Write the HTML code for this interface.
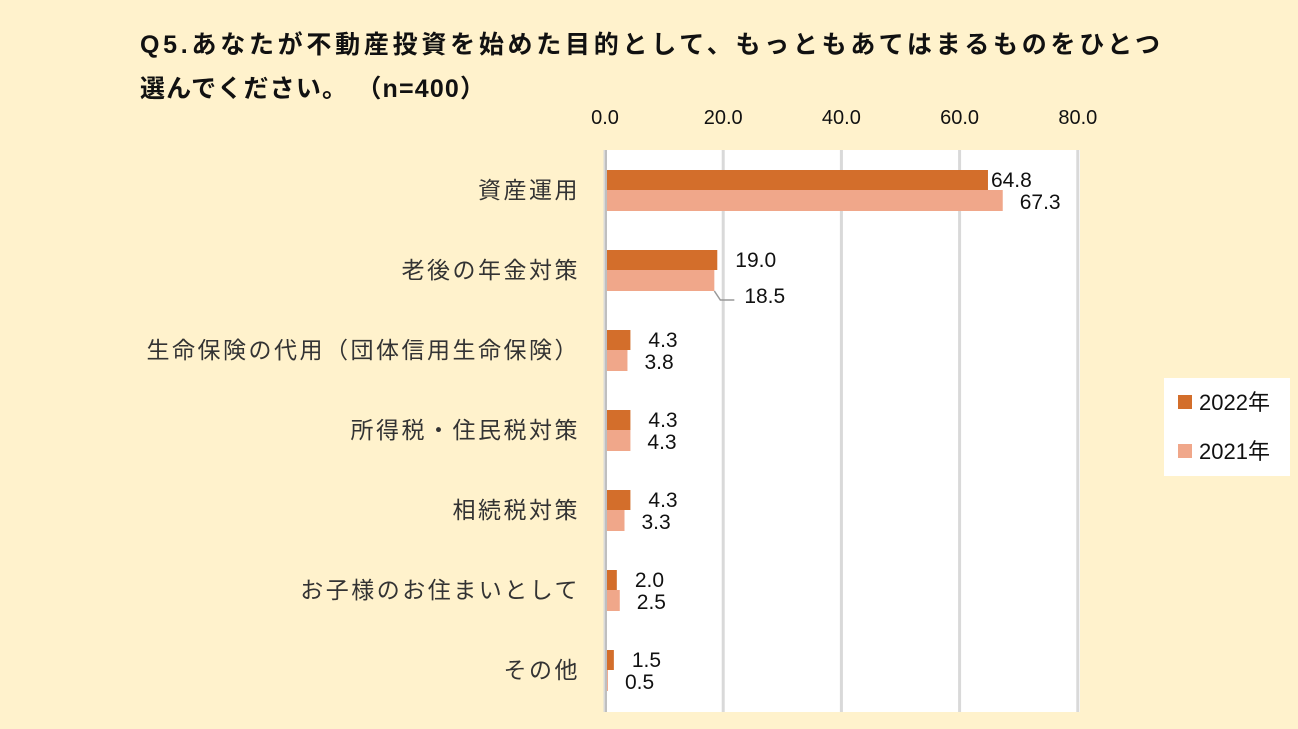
<!DOCTYPE html>
<html><head><meta charset="utf-8"><style>
body{margin:0;width:1298px;height:729px;background:#FFF2CC;overflow:hidden;font-family:"Liberation Sans","Noto Sans CJK JP",sans-serif;}
</style></head><body>
<svg id="c" width="1298" height="729" style="position:absolute;left:0;top:0"></svg>
<script>
const categories=["資産運用","老後の年金対策","生命保険の代用（団体信用生命保険）","所得税・住民税対策","相続税対策","お子様のお住まいとして","その他"];
const values2022=[64.8,19.0,4.3,4.3,4.3,2.0,1.5];
const values2021=[67.3,18.5,3.8,4.3,3.3,2.5,0.5];
const ticks=[0,20,40,60,80];
const seriesNames=["2022年","2021年"];
const NS="http://www.w3.org/2000/svg";
const svg=document.getElementById('c');
function el(t,a,txt){const e=document.createElementNS(NS,t);for(const k in a)e.setAttribute(k,a[k]);if(txt!=null)e.textContent=txt;svg.appendChild(e);return e;}
const x0=605,sc=5.91,top0=150,rowH=80;
const xs=v=>x0+v*sc;
const yc=i=>top0+40+i*rowH;
let t=el('text',{x:140,y:53,'font-size':25,'font-weight':'bold',fill:'#111',textLength:1020,lengthAdjust:'spacing'},"Q5.あなたが不動産投資を始めた目的として、もっともあてはまるものをひとつ");

t=el('text',{x:140,y:97,'font-size':25,'font-weight':'bold',fill:'#111',textLength:345,lengthAdjust:'spacing'},"選んでください。 （n=400）");

let p=el('rect',{x:604,y:150,width:476,height:562,fill:'#fff'});

ticks.forEach(v=>{
  const g=el('line',{x1:xs(v),x2:xs(v),y1:150,y2:712,stroke:'#d9d9d9','stroke-width':3});
  
  const l=el('text',{x:xs(v),y:124,'text-anchor':'middle','font-size':20,fill:'#111'},v.toFixed(1));
  
});
categories.forEach((c,i)=>{
  const l=el('text',{x:580,y:yc(i)+8,'text-anchor':'end','font-size':23,'letter-spacing':2.5,fill:'#333'},c);
  
  const b1=el('rect',{x:x0,y:yc(i)-20,width:values2022[i]*sc,height:20,fill:'#D36E2B'});
  
  const b2=el('rect',{x:x0,y:yc(i),width:values2021[i]*sc,height:21,fill:'#F0A78A'});
  
  const off1=values2022[i]>50?3:18;
  const v1=el('text',{x:xs(values2022[i])+off1,y:yc(i)-3,'font-size':21,fill:'#111'},values2022[i].toFixed(1));
  
  let off2=17,dy=19;
  if(Math.abs(values2022[i]-values2021[i])<1.5&&values2021[i]>10){off2=30;dy=33;
    const ll=el('polyline',{points:`${xs(values2021[i])},${yc(i)+21} ${xs(values2021[i])+6},${yc(i)+30} ${xs(values2021[i])+20},${yc(i)+30}`,fill:'none',stroke:'#999','stroke-width':1.5});
    }
  const v2=el('text',{x:xs(values2021[i])+off2,y:yc(i)+dy,'font-size':21,fill:'#111'},values2021[i].toFixed(1));
  
});
const ax=el('line',{x1:606,x2:606,y1:150,y2:712,stroke:'#bfbfbf','stroke-width':2});

const lg=el('rect',{x:1164,y:378,width:126,height:98,fill:'#fff'});

["#D36E2B","#F0A78A"].forEach((col,k)=>{
  const s=el('rect',{x:1178,y:395+k*49,width:14,height:14,fill:col});
  
  const lt=el('text',{x:1199,y:410+k*49,'font-size':22,fill:'#111'},seriesNames[k]);
  
});
</script>
</body></html>
